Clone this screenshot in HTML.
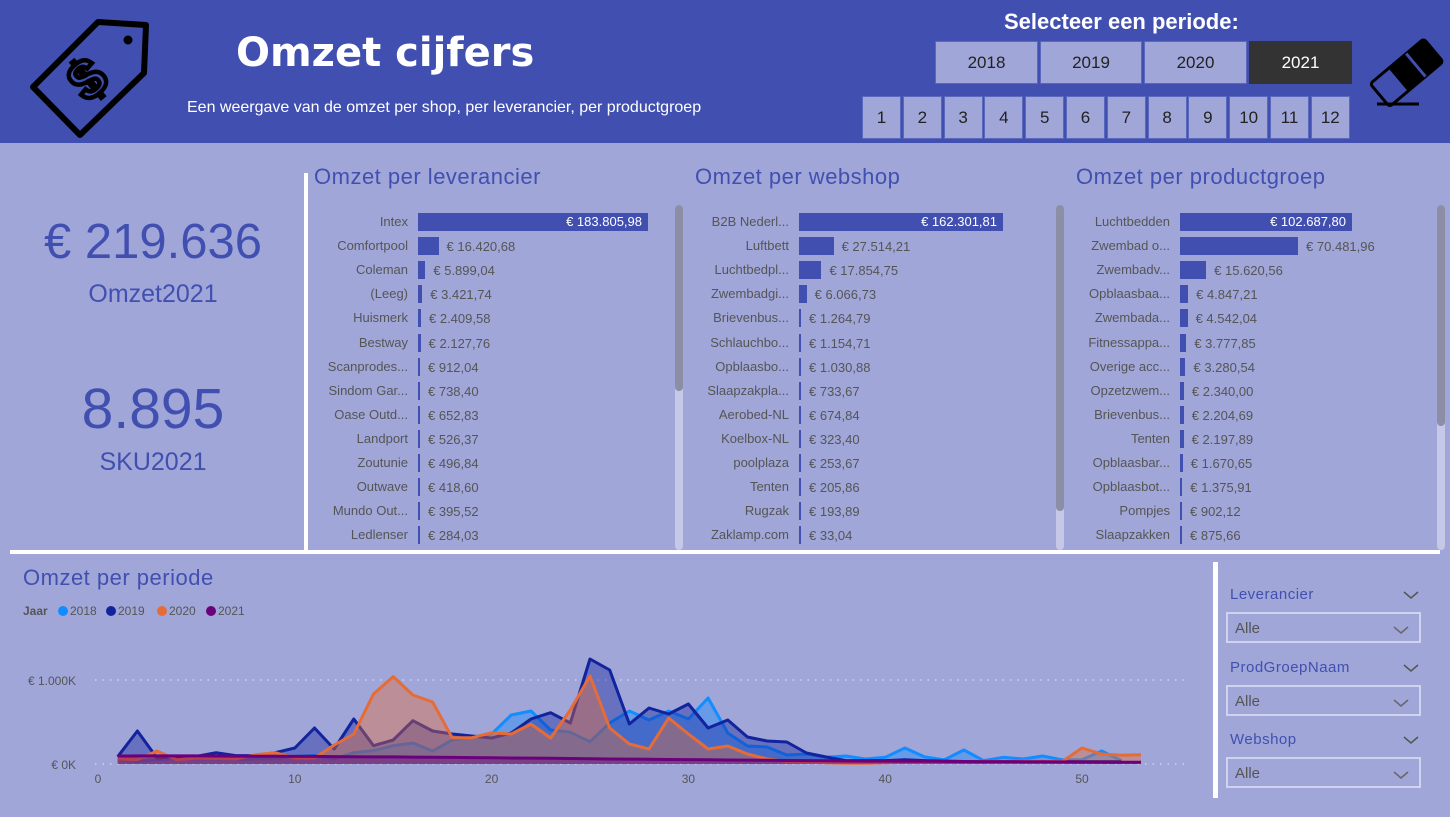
<!DOCTYPE html>
<html><head><meta charset="utf-8">
<style>
*{box-sizing:border-box;margin:0;padding:0}
body{width:1450px;height:817px;overflow:hidden;background:#a0a6d8;font-family:"Liberation Sans",sans-serif;position:relative}
.abs{position:absolute}
#header{left:0;top:0;width:1450px;height:143px;background:#4150b0}
.btn{position:absolute;background:#a0a6d8;color:#222;font-size:17px;display:flex;align-items:center;justify-content:center;border:1px solid #5a68bd}
.ptitle{position:absolute;color:#4150b0;font-size:22px;letter-spacing:0.5px}
.lbl{position:absolute;color:#555;font-size:13px;text-align:right;white-space:nowrap}
.val{position:absolute;color:#555;font-size:13px;white-space:nowrap}
.bar{position:absolute;background:#4150b0}
.sb{position:absolute;width:8px;border-radius:4px}
.slt{position:absolute;color:#4150b0;font-size:15px;letter-spacing:0.5px}
.dd{position:absolute;width:195px;height:31px;border:2px solid #d0d3ee;color:#555;font-size:15px;padding:6px 0 0 7px}
.chev{position:absolute}
</style></head><body>
<div id="header" class="abs"></div>
<svg class="abs" style="left:0;top:0" width="160" height="143">
 <polygon points="98,22 146,25 144,73 80,135 33,87" fill="none" stroke="#000" stroke-width="6" stroke-linejoin="round"/>
 <circle cx="128" cy="40" r="4.5" fill="#000"/>
 <text x="88" y="98" font-size="56" font-weight="bold" fill="none" stroke="#000" stroke-width="4.5" text-anchor="middle" transform="rotate(-40 88 80)" font-family="Liberation Sans">$</text>
</svg>
<div class="abs" style="left:236px;top:30px;color:#fff;font-size:40px;font-weight:bold;font-family:'DejaVu Sans',sans-serif">Omzet cijfers</div>
<div class="abs" style="left:187px;top:99px;color:#fff;font-size:16px">Een weergave van de omzet per shop, per leverancier, per productgroep</div>
<div class="abs" style="left:1004px;top:9px;color:#fff;font-size:22px;font-weight:bold">Selecteer een periode:</div>
<div class="btn" style="left:935px;top:41px;width:103px;height:43px">2018</div>
<div class="btn" style="left:1040px;top:41px;width:102px;height:43px">2019</div>
<div class="btn" style="left:1144px;top:41px;width:103px;height:43px">2020</div>
<div class="btn" style="left:1249px;top:41px;width:103px;height:43px;background:#333;color:#fff;border-color:#333">2021</div>
<div id="months"></div>
<svg class="abs" style="left:1365px;top:36px" width="82" height="72" viewBox="0 0 82 72">
 <g transform="rotate(-40 41 36)"><rect x="6" y="22" width="70" height="30" rx="3" fill="none" stroke="#000" stroke-width="3"/><rect x="30" y="22" width="46" height="30" fill="#000"/><line x1="53" y1="22" x2="53" y2="52" stroke="#4150b0" stroke-width="3"/></g>
 <line x1="12" y1="68" x2="54" y2="68" stroke="#000" stroke-width="3"/>
</svg>

<div class="abs" style="left:0;top:214px;width:306px;text-align:center;color:#4150b0;font-size:49px">€ 219.636</div>
<div class="abs" style="left:0;top:280px;width:306px;text-align:center;color:#4150b0;font-size:25px">Omzet2021</div>
<div class="abs" style="left:0;top:376px;width:306px;text-align:center;color:#4150b0;font-size:57px">8.895</div>
<div class="abs" style="left:0;top:448px;width:306px;text-align:center;color:#4150b0;font-size:25px">SKU2021</div>

<div class="abs" style="left:304px;top:173px;width:4px;height:377px;background:#fff"></div>
<div class="abs" style="left:10px;top:550px;width:1430px;height:4px;background:#fff"></div>
<div class="abs" style="left:1213px;top:562px;width:5px;height:236px;background:#fff"></div>

<div class="ptitle" style="left:314px;top:164px">Omzet per leverancier</div>
<div class="ptitle" style="left:695px;top:164px">Omzet per webshop</div>
<div class="ptitle" style="left:1076px;top:164px">Omzet per productgroep</div>
<div id="bars"></div>
<div class="sb" style="left:675px;top:205px;height:345px;background:#c5c8e6"></div>
<div class="sb" style="left:675px;top:205px;height:186px;background:#8c8ea6"></div>
<div class="sb" style="left:1056px;top:205px;height:345px;background:#c5c8e6"></div>
<div class="sb" style="left:1056px;top:205px;height:306px;background:#8c8ea6"></div>
<div class="sb" style="left:1437px;top:205px;height:345px;background:#c5c8e6"></div>
<div class="sb" style="left:1437px;top:205px;height:221px;background:#8c8ea6"></div>

<div class="ptitle" style="left:23px;top:565px">Omzet per periode</div>
<svg id="chart" class="abs" style="left:0;top:595px" width="1210" height="200"></svg>

<div class="slt" style="left:1230px;top:586px">Leverancier</div>
<svg class="chev" style="left:1403px;top:590px" width="16" height="10"><polyline points="1,2 8,8 15,2" fill="none" stroke="#555" stroke-width="1.5"/></svg>
<div class="dd" style="left:1226px;top:612px">Alle<svg style="position:absolute;right:10px;top:11px" width="16" height="10"><polyline points="1,2 8,8 15,2" fill="none" stroke="#666" stroke-width="1.5"/></svg></div>
<div class="slt" style="left:1230px;top:659px">ProdGroepNaam</div>
<svg class="chev" style="left:1403px;top:663px" width="16" height="10"><polyline points="1,2 8,8 15,2" fill="none" stroke="#555" stroke-width="1.5"/></svg>
<div class="dd" style="left:1226px;top:685px">Alle<svg style="position:absolute;right:10px;top:11px" width="16" height="10"><polyline points="1,2 8,8 15,2" fill="none" stroke="#666" stroke-width="1.5"/></svg></div>
<div class="slt" style="left:1230px;top:731px">Webshop</div>
<svg class="chev" style="left:1403px;top:735px" width="16" height="10"><polyline points="1,2 8,8 15,2" fill="none" stroke="#555" stroke-width="1.5"/></svg>
<div class="dd" style="left:1226px;top:757px">Alle<svg style="position:absolute;right:10px;top:11px" width="16" height="10"><polyline points="1,2 8,8 15,2" fill="none" stroke="#666" stroke-width="1.5"/></svg></div>

<script>
var mb=document.getElementById('months');
for(var m=1;m<=12;m++){
  var b=document.createElement('div');
  b.className='btn';
  b.style.cssText='left:'+(862+(m-1)*40.8)+'px;top:96px;width:39px;height:43px';
  b.textContent=m;
  
  
  mb.appendChild(b);
}
var levNames=["Intex","Comfortpool","Coleman","(Leeg)","Huismerk","Bestway","Scanprodes...","Sindom Gar...","Oase Outd...","Landport","Zoutunie","Outwave","Mundo Out...","Ledlenser"];
var levVals=[183805.98,16420.68,5899.04,3421.74,2409.58,2127.76,912.04,738.40,652.83,526.37,496.84,418.60,395.52,284.03];
var webNames=["B2B Nederl...","Luftbett","Luchtbedpl...","Zwembadgi...","Brievenbus...","Schlauchbo...","Opblaasbo...","Slaapzakpla...","Aerobed-NL","Koelbox-NL","poolplaza","Tenten","Rugzak","Zaklamp.com"];
var webVals=[162301.81,27514.21,17854.75,6066.73,1264.79,1154.71,1030.88,733.67,674.84,323.40,253.67,205.86,193.89,33.04];
var prodNames=["Luchtbedden","Zwembad o...","Zwembadv...","Opblaasbaa...","Zwembada...","Fitnessappa...","Overige acc...","Opzetzwem...","Brievenbus...","Tenten","Opblaasbar...","Opblaasbot...","Pompjes","Slaapzakken"];
var prodVals=[102687.80,70481.96,15620.56,4847.21,4542.04,3777.85,3280.54,2340.00,2204.69,2197.89,1670.65,1375.91,902.12,875.66];
function fmt(v){var p=v.toFixed(2).split('.');return '€ '+p[0].replace(/\B(?=(\d{3})+(?!\d))/g,'.')+','+p[1];}
var bc=document.getElementById('bars');
function barChart(names,vals,x0,maxW,key){
  var mx=Math.max.apply(null,vals);
  for(var i=0;i<names.length;i++){
    var y=213+i*24.1;
    var l=document.createElement('div');l.className='lbl';
    l.style.cssText='left:'+(x0-160)+'px;width:150px;top:'+(y+1)+'px';
    l.textContent=names[i];
    
    
    bc.appendChild(l);
    var w=Math.max(2,vals[i]/mx*maxW);
    var b=document.createElement('div');b.className='bar';
    b.style.cssText='left:'+x0+'px;top:'+y+'px;width:'+w+'px;height:18px';
    
    
    bc.appendChild(b);
    var v=document.createElement('div');v.className='val';
    if(i==0){v.style.cssText='left:'+x0+'px;width:'+(w-6)+'px;text-align:right;color:#fff;top:'+(y+1)+'px';}
    else v.style.cssText='left:'+(x0+w+8)+'px;top:'+(y+2)+'px';
    v.textContent=fmt(vals[i]);
    
    
    bc.appendChild(v);
  }
}
barChart(levNames,levVals,418,230,'leverancier');
barChart(webNames,webVals,799,204,'webshop');
barChart(prodNames,prodVals,1180,172,'productgroep');

var s2018=[50,30,50,60,60,60,50,60,60,90,100,60,135,160,218,250,155,286,320,357,583,631,405,377,266,488,631,524,631,536,786,369,214,202,107,119,80,95,60,80,190,85,50,167,40,80,60,95,50,50,155,40];
var s2019=[87,393,71,87,90,135,100,100,135,190,429,179,536,218,286,516,393,357,333,310,369,536,611,488,1250,1119,476,667,595,714,429,524,321,274,262,131,83,40,40,40,50,40,35,30,30,30,30,30,30,30,30,30];
var s2020=[60,50,155,50,70,65,60,110,135,70,70,226,357,833,1040,821,738,313,313,373,357,476,310,643,1048,429,238,179,548,357,179,214,119,60,30,20,15,10,10,15,20,20,25,30,30,30,35,35,30,190,119,104,110];
var s2021=[95,96,97,97,96,95,94,93,92,91,90,88,87,85,84,82,80,78,76,74,72,70,68,65,62,60,58,56,54,52,50,48,46,44,42,40,38,36,35,34,33,32,31,30,29,28,27,26,25,24,23,22,20];
var xTicks=[0,10,20,30,40,50];
var yTicks=[0,1000];
var yTickLabels=["€ 0K","€ 1.000K"];
var seriesNames=["2018","2019","2020","2021"];
var colors=["#118dff","#12239e","#e66c37","#6b007b"];
var svg=document.getElementById('chart'),NS='http://www.w3.org/2000/svg';
function X(w){return 98+w*19.68;}
function Y(v){return 169-v*0.084;}
function mk(t,a){var e=document.createElementNS(NS,t);for(var k in a)e.setAttribute(k,a[k]);svg.appendChild(e);return e;}
yTicks.forEach(function(t,i){
  var g=mk('line',{x1:95,x2:1185,y1:Y(t),y2:Y(t),stroke:'#cfd2ec','stroke-width':1.5,'stroke-dasharray':'1.5 6'});
  
  
  var tx=mk('text',{x:76,y:Y(t)+5,'text-anchor':'end','font-size':12,fill:'#555','font-family':'Liberation Sans'});
  
  
  tx.textContent=yTickLabels[i];
});
xTicks.forEach(function(t){
  var tx=mk('text',{x:X(t),y:188,'text-anchor':'middle','font-size':12,fill:'#555','font-family':'Liberation Sans'});
  
  
  tx.textContent=t;
});
[s2018,s2019,s2020,s2021].forEach(function(s,k){
  var pts=s.map(function(v,i){return X(i+1).toFixed(1)+','+Y(v).toFixed(1);});
  var area='M'+X(1)+','+Y(0)+' L'+pts.join(' L')+' L'+X(s.length)+','+Y(0)+' Z';
  var a=mk('path',{d:area,fill:colors[k],'fill-opacity':0.4});
  
  
  var l=mk('polyline',{points:pts.join(' '),fill:'none',stroke:colors[k],'stroke-width':3,'stroke-linejoin':'round'});
  
  
});
var lg=mk('text',{x:23,y:20,'font-size':12,'font-weight':'bold',fill:'#555','font-family':'Liberation Sans'});


lg.textContent='Jaar';
var lx=[63,111,162,211];
seriesNames.forEach(function(n,k){
  var c=mk('circle',{cx:lx[k],cy:16,r:5,fill:colors[k]});
  
  
  var t=mk('text',{x:lx[k]+7,y:20,'font-size':12,fill:'#555','font-family':'Liberation Sans'});
  
  
  t.textContent=n;
});
</script>
</body></html>
